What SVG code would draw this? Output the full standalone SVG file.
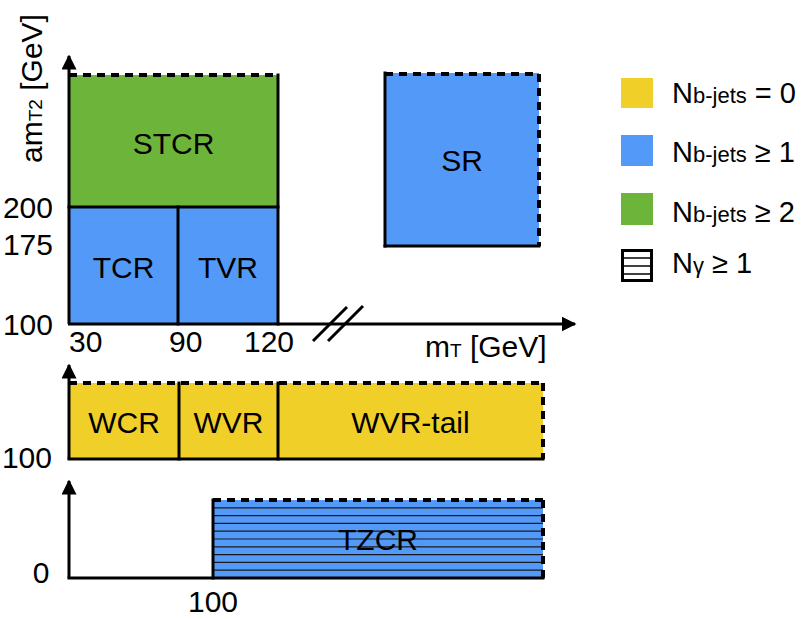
<svg xmlns="http://www.w3.org/2000/svg" width="812" height="619" viewBox="0 0 812 619">
<style>
text{font-family:"Liberation Sans",Arial,sans-serif;fill:#000}
.lbl{font-size:30px;text-anchor:middle}
.tick{font-size:30px}
.sub{font-size:19px}
.leg{font-size:29px}
.legsub{font-size:22px}
.solid{stroke:#000;stroke-width:3;fill:none;stroke-linecap:square}
.dash{stroke:#000;stroke-width:4;fill:none;stroke-dasharray:8 6}
.axis{stroke:#000;stroke-width:3;fill:none}
.hatch{stroke:#1a1a1a;stroke-width:1.2}
.y{fill:#F0CF28}
.b{fill:#539AF8}
.g{fill:#6DB53A}
</style>
<defs>
<marker id="arr" viewBox="0 0 10 10" refX="9" refY="5" markerWidth="5" markerHeight="5" orient="auto" markerUnits="strokeWidth">
<path d="M0,0 L10,5 L0,10 z" fill="#000"/>
</marker>
</defs>

<!-- fills -->
<g id="STCR">
<rect class="g" x="69" y="75" width="209" height="132"/>
<text class="lbl" x="173.5" y="154">STCR</text>
</g>
<g id="TCR">
<rect class="b" x="69" y="207" width="109" height="117"/>
<text class="lbl" x="123.5" y="278">TCR</text>
</g>
<g id="TVR">
<rect class="b" x="178" y="207" width="100" height="117"/>
<text class="lbl" x="228" y="278">TVR</text>
</g>
<g id="SR">
<rect class="b" x="385" y="73" width="154" height="173"/>
<line class="solid" x1="385" y1="73" x2="385" y2="246"/>
<line class="solid" x1="385" y1="246" x2="539" y2="246"/>
<line class="dash" x1="385" y1="74" x2="539" y2="74"/>
<line class="dash" x1="539" y1="74" x2="539" y2="246"/>
<text class="lbl" x="462" y="171">SR</text>
</g>
<g id="WCR">
<rect class="y" x="69" y="383" width="110" height="76"/>
<text class="lbl" x="124" y="433">WCR</text>
</g>
<g id="WVR">
<rect class="y" x="179" y="383" width="99" height="76"/>
<text class="lbl" x="228.5" y="433">WVR</text>
</g>
<g id="WVR-tail">
<rect class="y" x="278" y="383" width="265" height="76"/>
<text class="lbl" x="410.5" y="433">WVR-tail</text>
</g>
<g id="TZCR">
<rect class="b" x="213" y="500" width="330" height="78"/>
<g class="hatch">
<line x1="213" y1="507.8" x2="543" y2="507.8"/>
<line x1="213" y1="515.6" x2="543" y2="515.6"/>
<line x1="213" y1="523.4" x2="543" y2="523.4"/>
<line x1="213" y1="531.2" x2="543" y2="531.2"/>
<line x1="213" y1="539" x2="543" y2="539"/>
<line x1="213" y1="546.8" x2="543" y2="546.8"/>
<line x1="213" y1="554.6" x2="543" y2="554.6"/>
<line x1="213" y1="562.4" x2="543" y2="562.4"/>
<line x1="213" y1="570.2" x2="543" y2="570.2"/>
</g>
<text class="lbl" x="378" y="550">TZCR</text>
</g>

<!-- region borders -->
<g id="borders">
<line class="dash" x1="69" y1="75" x2="278" y2="75"/>
<line class="solid" x1="278" y1="75" x2="278" y2="324"/>
<line class="solid" x1="69" y1="207" x2="278" y2="207"/>
<line class="solid" x1="178" y1="207" x2="178" y2="324"/>

<line class="dash" x1="69" y1="383" x2="543" y2="383"/>
<line class="dash" x1="543" y1="383" x2="543" y2="459"/>
<line class="solid" x1="69" y1="459" x2="543" y2="459"/>
<line class="solid" x1="179" y1="383" x2="179" y2="459"/>
<line class="solid" x1="278" y1="383" x2="278" y2="459"/>

<line class="dash" x1="213" y1="500" x2="543" y2="500"/>
<line class="dash" x1="543" y1="500" x2="543" y2="578"/>
<line class="solid" x1="213" y1="500" x2="213" y2="578"/>
<line class="solid" x1="69" y1="578" x2="543" y2="578"/>
</g>

<!-- axes -->
<g id="connectors">
<line class="axis" x1="69" y1="324" x2="69" y2="56" marker-end="url(#arr)"/>
<line class="axis" x1="68" y1="324" x2="575" y2="324" marker-end="url(#arr)"/>
<line class="axis" x1="313" y1="341" x2="347" y2="307"/>
<line class="axis" x1="328" y1="341" x2="363" y2="306"/>
<line class="axis" x1="69" y1="459" x2="69" y2="365" marker-end="url(#arr)"/>
<line class="axis" x1="69" y1="578" x2="69" y2="481" marker-end="url(#arr)"/>
</g>

<!-- axis labels and ticks -->
<g id="labels">
<text class="tick" transform="translate(42,163) rotate(-90)">am<tspan class="sub">T2</tspan> [GeV]</text>
<text class="tick" x="425" y="357">m<tspan class="sub">T</tspan> [GeV]</text>
<text class="tick" x="53" y="218" text-anchor="end">200</text>
<text class="tick" x="53" y="255" text-anchor="end">175</text>
<text class="tick" x="53" y="335" text-anchor="end">100</text>
<text class="tick" x="69" y="352">30</text>
<text class="tick" x="169" y="352">90</text>
<text class="tick" x="244" y="352">120</text>
<text class="tick" x="52" y="468" text-anchor="end">100</text>
<text class="tick" x="41" y="583" text-anchor="middle">0</text>
<text class="tick" x="213" y="612" text-anchor="middle">100</text>
</g>

<!-- legend -->
<g id="legend">
<rect class="y" x="621" y="78" width="32" height="30"/>
<text class="leg" x="672" y="103">N<tspan class="legsub">b-jets</tspan> = 0</text>
<rect class="b" x="621" y="135" width="32" height="31"/>
<text class="leg" x="672" y="162">N<tspan class="legsub">b-jets</tspan> ≥ 1</text>
<rect class="g" x="621" y="193" width="32" height="32"/>
<text class="leg" x="672" y="222">N<tspan class="legsub">b-jets</tspan> ≥ 2</text>
<rect x="622.5" y="250.5" width="29" height="30" fill="#fff" stroke="#000" stroke-width="3"/>
<line x1="622" y1="258" x2="652" y2="258" stroke="#000" stroke-width="1.5"/>
<line x1="622" y1="266" x2="652" y2="266" stroke="#000" stroke-width="1.5"/>
<line x1="622" y1="274" x2="652" y2="274" stroke="#000" stroke-width="1.5"/>
<text class="leg" x="672" y="273">N<tspan class="legsub">γ</tspan> ≥ 1</text>
</g>
</svg>
